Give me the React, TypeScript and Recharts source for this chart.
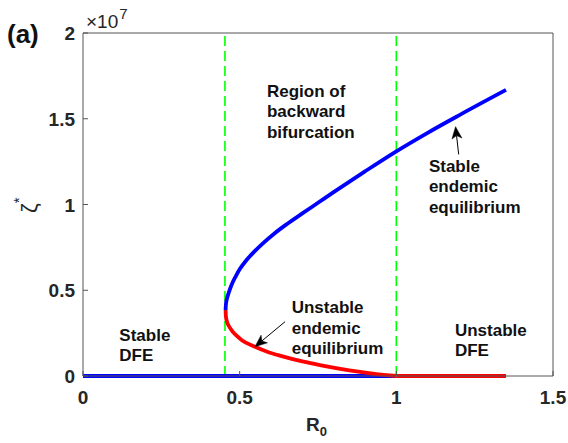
import React from 'react';
import { LineChart, Line, XAxis, YAxis, ReferenceLine, ReferenceDot } from 'recharts';

// R0 values and zeta* (in units of 1e7)
const upperX = [0.455, 0.4565, 0.46, 0.466, 0.475, 0.487, 0.501, 0.52, 0.545, 0.575, 0.61, 0.65, 0.7, 0.75, 0.8, 0.9, 1.0, 1.1, 1.2, 1.35];
const upperY = [0.384, 0.425, 0.455, 0.49, 0.535, 0.58, 0.625, 0.672, 0.722, 0.775, 0.83, 0.885, 0.948, 1.01, 1.072, 1.193, 1.31, 1.418, 1.52, 1.668];
const lowerX = [0.455, 0.456, 0.459, 0.466, 0.475, 0.49, 0.507, 0.549, 0.59, 0.634, 0.7, 0.76, 0.85, 0.93, 1.0];
const lowerY = [0.384, 0.35, 0.32, 0.29, 0.265, 0.235, 0.209, 0.17, 0.14, 0.116, 0.085, 0.062, 0.033, 0.013, 0];
const dfeStableX = [0, 1];
const dfeStableY = [0, 0];
const dfeUnstableX = [1, 1.35];
const dfeUnstableY = [0, 0];
const thresholds = [0.453, 1];

const xTicks = [0, 0.5, 1, 1.5];
const xTickLabels = ['0', '0.5', '1', '1.5'];
const yTicks = [0, 0.5, 1, 1.5, 2];
const yTickLabels = ['0', '0.5', '1', '1.5', '2'];

const annotations = [
  { x: 0.587, y: 1.627, lines: ['Region of', 'backward', 'bifurcation'] },
  { x: 0.666, y: 0.366, lines: ['Unstable', 'endemic', 'equilibrium'] },
  { x: 1.104, y: 1.191, lines: ['Stable', 'endemic', 'equilibrium'] },
  { x: 1.187, y: 0.235, lines: ['Unstable', 'DFE'] },
  { x: 0.116, y: 0.206, lines: ['Stable', 'DFE'] },
];
const arrows = [
  { from: { x: 0.645, y: 0.317 }, to: { x: 0.549, y: 0.171 } },
  { from: { x: 1.199, y: 1.292 }, to: { x: 1.189, y: 1.454 } },
];

const zip = (xs: number[], ys: number[]) => xs.map((x, i) => ({ x, y: ys[i] }));
const upperData = zip(upperX, upperY);
const lowerData = zip(lowerX, lowerY);
const dfeStable = zip(dfeStableX, dfeStableY);
const dfeUnstable = zip(dfeUnstableX, dfeUnstableY);

const FONT = '"Liberation Sans", Arial, Helvetica, sans-serif';
const AXIS = '#555555';
const TXT = '#262626';

const BottomTick = (props: any) => {
  const { x, y, payload } = props;
  const i = xTicks.indexOf(payload.value);
  return (
    <g>
      <line x1={x} x2={x} y1={y} y2={y - 5} stroke={AXIS} strokeWidth={1} />
      <text x={x} y={y + 28} textAnchor="middle" fontFamily={FONT} fontWeight="bold" fontSize={19} fill={TXT}>
        {xTickLabels[i]}
      </text>
    </g>
  );
};
const LeftTick = (props: any) => {
  const { x, y, payload } = props;
  const i = yTicks.indexOf(payload.value);
  return (
    <g>
      <line x1={x} x2={x + 5} y1={y} y2={y} stroke={AXIS} strokeWidth={1} />
      <text x={x - 8} y={y + 7} textAnchor="end" fontFamily={FONT} fontWeight="bold" fontSize={19} fill={TXT}>
        {yTickLabels[i]}
      </text>
    </g>
  );
};
const TopTick = (props: any) => {
  const { x, y } = props;
  return <line x1={x} x2={x} y1={y} y2={y + 5} stroke={AXIS} strokeWidth={1} />;
};
const RightTick = (props: any) => {
  const { x, y } = props;
  return <line x1={x} x2={x - 5} y1={y} y2={y} stroke={AXIS} strokeWidth={1} />;
};

const Arrow = (props: any) => {
  const { x1, y1, x2, y2 } = props;
  const dx = x2 - x1;
  const dy = y2 - y1;
  const len = Math.sqrt(dx * dx + dy * dy) || 1;
  const ux = dx / len;
  const uy = dy / len;
  const px = -uy;
  const py = ux;
  const L = 12;
  const W = 5;
  const bx = x2 - ux * L;
  const by = y2 - uy * L;
  const nx = x2 - ux * (L - 3);
  const ny = y2 - uy * (L - 3);
  return (
    <g>
      <line x1={x1} y1={y1} x2={nx} y2={ny} stroke="#000" strokeWidth={1} />
      <polygon
        points={`${x2},${y2} ${bx + px * W},${by + py * W} ${nx},${ny} ${bx - px * W},${by - py * W}`}
        fill="#000"
        stroke="#000"
        strokeWidth={0.5}
      />
    </g>
  );
};

const makeLabel = (lines: string[]) => (props: any) => {
  const { cx, cy } = props;
  return (
    <text x={cx} y={cy} fontFamily={FONT} fontWeight="bold" fontSize={17} fill="#111">
      {lines.map((l, i) => (
        <tspan key={i} x={cx} dy={i === 0 ? 0 : 20.5}>
          {l}
        </tspan>
      ))}
    </text>
  );
};

export default function App() {
  return (
    <div style={{ position: 'absolute', left: 0, top: 0, width: 568, height: 443, background: '#fff' }}>
      <LineChart width={568} height={443} margin={{ top: 32, right: 14, bottom: 66, left: 82 }}>
        <XAxis
          xAxisId="b"
          type="number"
          dataKey="x"
          domain={[0, 1.5]}
          ticks={xTicks}
          height={1}
          tickSize={0}
          tickMargin={0}
          tickLine={false}
          interval={0}
          stroke={AXIS}
          tick={<BottomTick />}
        />
        <XAxis
          xAxisId="t"
          orientation="top"
          type="number"
          dataKey="x"
          domain={[0, 1.5]}
          ticks={xTicks}
          height={1}
          tickSize={0}
          tickMargin={0}
          tickLine={false}
          interval={0}
          stroke={AXIS}
          tick={<TopTick />}
        />
        <YAxis
          yAxisId="l"
          type="number"
          domain={[0, 2]}
          ticks={yTicks}
          width={1}
          tickSize={0}
          tickMargin={0}
          tickLine={false}
          interval={0}
          stroke={AXIS}
          tick={<LeftTick />}
        />
        <YAxis
          yAxisId="r"
          orientation="right"
          type="number"
          domain={[0, 2]}
          ticks={yTicks}
          width={1}
          tickSize={0}
          tickMargin={0}
          tickLine={false}
          interval={0}
          stroke={AXIS}
          tick={<RightTick />}
        />
        {thresholds.map((t, i) => (
          <ReferenceLine
            key={'t' + i}
            xAxisId="b"
            yAxisId="l"
            x={t}
            stroke="#00ff00"
            strokeWidth={1.6}
            strokeDasharray="10 5"
          />
        ))}
        <Line xAxisId="b" yAxisId="l" data={dfeStable} dataKey="y" type="linear" stroke="#0000ff" strokeWidth={3.8} dot={false} isAnimationActive={false} />
        <Line xAxisId="b" yAxisId="l" data={dfeUnstable} dataKey="y" type="linear" stroke="#ff0000" strokeWidth={3.8} dot={false} isAnimationActive={false} />
        <Line xAxisId="b" yAxisId="l" data={lowerData} dataKey="y" type="monotone" stroke="#ff0000" strokeWidth={3.8} dot={false} isAnimationActive={false} />
        <Line xAxisId="b" yAxisId="l" data={upperData} dataKey="y" type="monotone" stroke="#0000ff" strokeWidth={3.8} dot={false} isAnimationActive={false} />
        {arrows.map((a, i) => (
          <ReferenceLine
            key={'a' + i}
            xAxisId="b"
            yAxisId="l"
            segment={[a.from, a.to]}
            stroke="#000"
            shape={Arrow}
          />
        ))}
        {annotations.map((a, i) => (
          <ReferenceDot
            key={'n' + i}
            xAxisId="b"
            yAxisId="l"
            x={a.x}
            y={a.y}
            r={0}
            shape={makeLabel(a.lines)}
          />
        ))}
      </LineChart>
      <svg width={568} height={443} style={{ position: 'absolute', left: 0, top: 0, pointerEvents: 'none' }}>
        <text x={7} y={43} fontFamily={FONT} fontWeight="bold" fontSize={26} fill="#111">(a)</text>
        <text x={86} y={28} fontFamily={FONT} fontSize={19} fill={TXT}>
          ×10<tspan dx={1} dy={-9} fontSize={15}>7</tspan>
        </text>
        <text transform="translate(37,213) rotate(-90)" fontFamily={FONT} fontSize={22} fill={TXT}>
          ζ<tspan dy={-13} fontSize={15}>*</tspan>
        </text>
        <text x={306} y={431} fontFamily={FONT} fontWeight="bold" fontSize={19} fill={TXT}>
          R<tspan dy={5} fontSize={13}>0</tspan>
        </text>
      </svg>
    </div>
  );
}
